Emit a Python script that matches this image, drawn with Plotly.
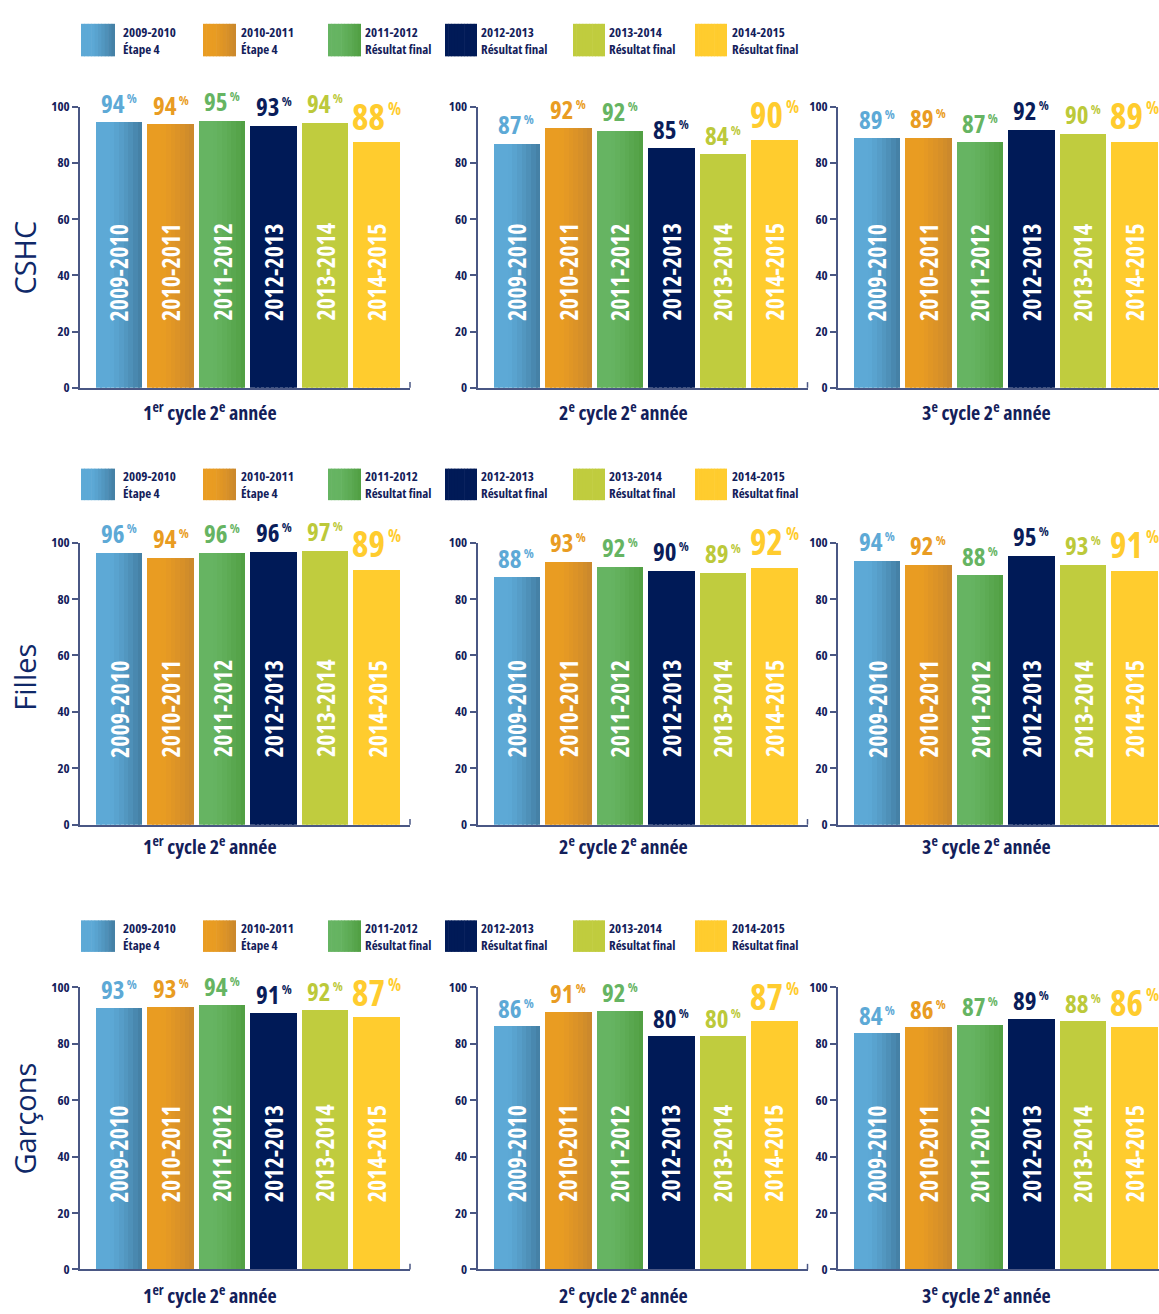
import plotly.graph_objects as go

# ---------------- data ----------------
years = ["2009-2010", "2010-2011", "2011-2012", "2012-2013", "2013-2014", "2014-2015"]
legend_sub = ["Étape 4", "Étape 4", "Résultat final", "Résultat final", "Résultat final", "Résultat final"]
groups = ["CSHC", "Filles", "Garçons"]
panels = ["1<sup>er</sup> cycle 2<sup>e</sup> année",
          "2<sup>e</sup> cycle 2<sup>e</sup> année",
          "3<sup>e</sup> cycle 2<sup>e</sup> année"]

# displayed percentage labels
cshc_labels = [[94, 94, 95, 93, 94, 88], [87, 92, 92, 85, 84, 90], [89, 89, 87, 92, 90, 89]]
filles_labels = [[96, 94, 96, 96, 97, 89], [88, 93, 92, 90, 89, 92], [94, 92, 88, 95, 93, 91]]
garcons_labels = [[93, 93, 94, 91, 92, 87], [86, 91, 92, 80, 80, 87], [84, 86, 87, 89, 88, 86]]

# bar heights as drawn
cshc_bars = [[94.7, 94.0, 95.1, 93.3, 94.4, 87.4], [87.0, 92.4, 91.6, 85.3, 83.2, 88.1], [88.8, 89.1, 87.4, 91.9, 90.5, 87.7]]
filles_bars = [[96.5, 94.8, 96.5, 96.9, 97.2, 90.6], [87.8, 93.4, 91.6, 90.2, 89.5, 91.3], [93.7, 92.3, 88.5, 95.5, 92.3, 90.2]]
garcons_bars = [[92.7, 93.0, 93.7, 90.9, 92.0, 89.2], [86.0, 91.3, 91.6, 82.5, 82.5, 87.8], [83.6, 85.7, 86.7, 88.8, 87.8, 85.7]]

all_labels = [cshc_labels, filles_labels, garcons_labels]
all_bars = [cshc_bars, filles_bars, garcons_bars]

tick_vals = [0, 20, 40, 60, 80, 100]

# ---------------- style ----------------
W, H = 1159, 1314
NAVY = "#13205A"
AXIS = "#4A5784"
FONT = "Open Sans"
left_cols = ["#5DA9D6", "#E99C22", "#66B462", "#001A57", "#C0CC3E", "#FFCC2E"]
right_cols = ["#4581A6", "#CC892C", "#52A044", "#001A57", "#C0CC3E", "#FFCC2E"]
label_cols = ["#5DA9D6", "#E99C22", "#66B462", "#0A1D5A", "#BCC93A", "#FFCC2E"]

x_domains = [(80 / W, 410 / W), (477.5 / W, 807.5 / W), (838 / W, 1.0)]
x_ranges = [[-0.757, 5.65], [-0.757, 5.65], [-0.757, -0.757 + 321 / 51.5]]
row_px = [(99, 384), (541, 827), (992, 1278)]
legend_px = [(15, 48), (466, 498), (924, 956)]
legend_sq_x = [(81, 115), (203, 236), (328, 361), (445, 477), (573, 605), (695, 727)]
legend_txt_x = [121, 239, 363, 479, 607, 730]
axis_title_x = [210, 623, 986]
axis_title_y = [408, 848, 1303]
row_title_y = [252, 678, 1125]

BAR_W = 0.91
N_SLICES = 10


def cond(s):
    return "<span style='font-stretch:condensed'>%s</span>" % s


def hex2rgb(h):
    h = h.lstrip("#")
    return tuple(int(h[i:i + 2], 16) for i in (0, 2, 4))


def mix(c1, c2, t):
    a, b = hex2rgb(c1), hex2rgb(c2)
    return "rgb(%d,%d,%d)" % tuple(round(a[i] + (b[i] - a[i]) * t) for i in range(3))


def grad_t(k):
    t = k / (N_SLICES - 1)
    return max(0.0, (t - 0.3) / 0.7) ** 1.2


fig = go.Figure()
annotations = []
shapes = []

for r in range(3):
    top_px, bot_px = row_px[r]
    ydom = (1 - bot_px / H, 1 - top_px / H)
    for c in range(3):
        idx = r * 3 + c + 1
        xa = "x" if idx == 1 else "x%d" % idx
        ya = "y" if idx == 1 else "y%d" % idx
        bars = all_bars[r][c]
        labs = all_labels[r][c]
        for k in range(N_SLICES):
            t = grad_t(k)
            cols = [mix(left_cols[i], right_cols[i], t) for i in range(len(years))]
            wid = BAR_W / N_SLICES * (1.4 if k < N_SLICES - 1 else 1.0)
            fig.add_trace(go.Bar(
                x=years, y=bars, xaxis=xa, yaxis=ya,
                width=wid, offset=-BAR_W / 2 + k * BAR_W / N_SLICES,
                marker=dict(color=cols, line=dict(width=0)),
                hoverinfo="skip", showlegend=False,
            ))
        xkey = "xaxis" if idx == 1 else "xaxis%d" % idx
        ykey = "yaxis" if idx == 1 else "yaxis%d" % idx
        fig.layout[xkey] = dict(
            domain=list(x_domains[c]), anchor=ya, type="category",
            categoryorder="array", categoryarray=years,
            range=x_ranges[c], showline=True, linecolor=AXIS, linewidth=1.5,
            showticklabels=False, ticks="", showgrid=False, zeroline=False, fixedrange=True,
        )
        fig.layout[ykey] = dict(
            domain=list(ydom), anchor=xa, range=[0, 100],
            tickvals=tick_vals, ticktext=[cond(v) for v in tick_vals],
            showline=True, linecolor=AXIS, linewidth=1.5,
            ticks="outside", ticklen=6, tickcolor=AXIS, tickwidth=1.5,
            tickfont=dict(family=FONT, size=13, color=NAVY, weight="bold"),
            showgrid=False, zeroline=False, fixedrange=True,
        )
        # right-end tick on x axis
        if c < 2:
            shapes.append(dict(type="line", xref="%s domain" % xa, yref="%s domain" % ya,
                               x0=1, x1=1, y0=0, y1=0.02, line=dict(color=AXIS, width=1.5)))
        for i, yr in enumerate(years):
            big = (i == len(years) - 1)
            num_size = 35 if big else 25
            pct_size = 17 if big else 13
            annotations.append(dict(
                x=yr, y=bars[i], xref=xa, yref=ya, xanchor="center", yanchor="bottom",
                yshift=0, showarrow=False,
                text=cond("%d<sup><span style='font-size:%dpx'> %%</span></sup>" % (labs[i], pct_size)),
                font=dict(family=FONT, size=num_size, color=label_cols[i], weight="bold"),
            ))
            annotations.append(dict(
                x=yr, y=41, xref=xa, yref=ya, xanchor="center", yanchor="middle",
                showarrow=False, textangle=-90, text=cond(yr),
                font=dict(family=FONT, size=24, color="white", weight="bold"),
            ))
        annotations.append(dict(
            x=axis_title_x[c] / W, y=1 - axis_title_y[r] / H, xref="paper", yref="paper",
            xanchor="center", yanchor="middle", showarrow=False, text=cond(panels[c]),
            font=dict(family=FONT, size=20, color=NAVY, weight="bold"),
        ))
    # row title
    annotations.append(dict(
        x=25 / W, y=1 - row_title_y[r] / H, xref="paper", yref="paper",
        xanchor="center", yanchor="middle", showarrow=False, textangle=-90,
        text=groups[r], font=dict(family=FONT, size=29, color="#0F2868"),
    ))
    # legend
    ly0, ly1 = legend_px[r]
    for i in range(len(years)):
        sx0, sx1 = legend_sq_x[i]
        for k in range(N_SLICES):
            t = grad_t(k)
            a = sx0 + (sx1 - sx0) * k / N_SLICES
            b = sx0 + (sx1 - sx0) * (k + 1) / N_SLICES + (0.6 if k < N_SLICES - 1 else 0)
            shapes.append(dict(type="rect", xref="paper", yref="paper",
                               x0=a / W, x1=b / W, y0=1 - ly1 / H, y1=1 - ly0 / H,
                               fillcolor=mix(left_cols[i], right_cols[i], t), line=dict(width=0)))
        annotations.append(dict(
            x=legend_txt_x[i] / W, y=1 - (ly0 + ly1) / 2 / H, xref="paper", yref="paper",
            xanchor="left", yanchor="middle", align="left", showarrow=False,
            text=cond("%s<br>%s" % (years[i], legend_sub[i])),
            font=dict(family=FONT, size=13, color=NAVY, weight="bold"),
        ))

fig.update_layout(
    width=W, height=H, margin=dict(l=0, r=0, t=0, b=0),
    paper_bgcolor="white", plot_bgcolor="white",
    barmode="overlay", bargap=0, showlegend=False,
    annotations=annotations, shapes=shapes,
)

post = (
    "document.documentElement.style.margin='0';"
    "document.documentElement.style.padding='0';"
    "document.documentElement.style.overflow='hidden';"
    "document.body.style.margin='0';document.body.style.padding='0';"
    "document.body.style.overflow='hidden';"
    "var gd=document.querySelector('.plotly-graph-div');"
    "gd.style.position='absolute';gd.style.left='0px';gd.style.top='0px';"
)
fig.write_html("out.html", config={"displayModeBar": False}, post_script=post)
